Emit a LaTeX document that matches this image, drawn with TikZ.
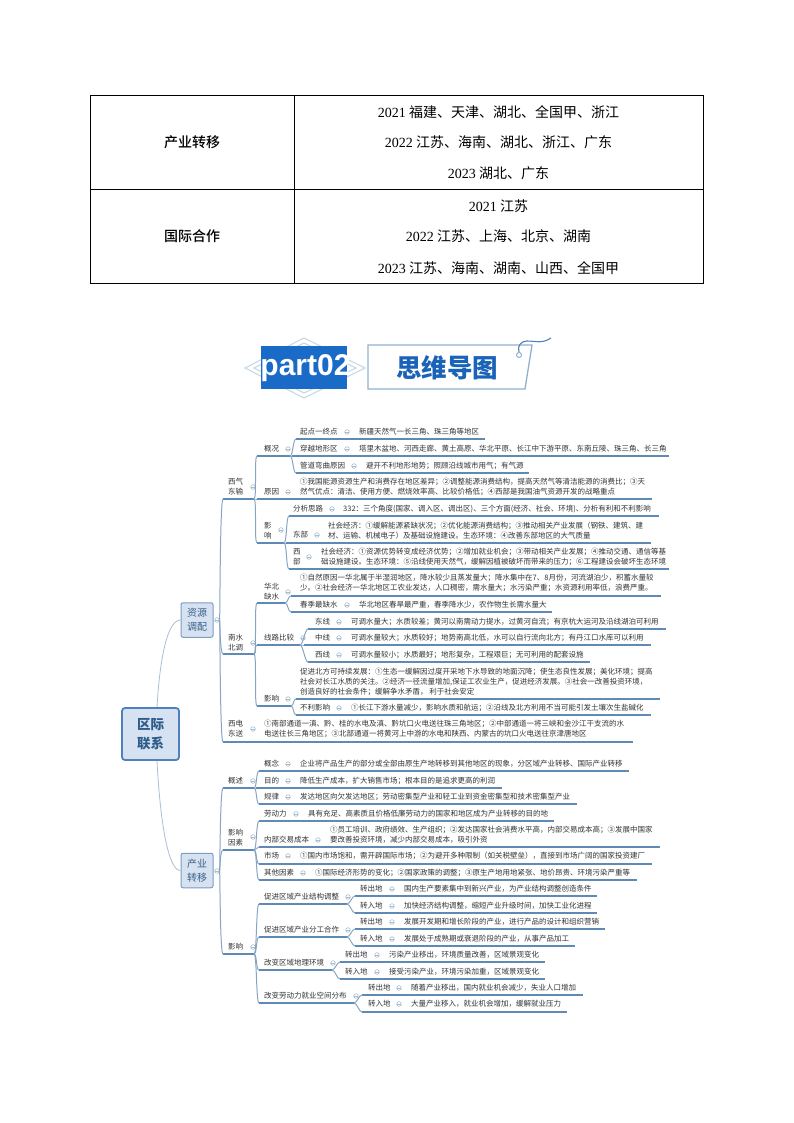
\documentclass[tikz,border=0pt]{standalone}
\usepackage{fontspec}
\setmainfont{Noto Sans CJK SC}
\newfontfamily\yearfont{Liberation Serif}
\newfontfamily\partfont{Liberation Sans}
\newfontfamily\headfont{Noto Sans CJK SC Medium}
\usetikzlibrary{calc}
\definecolor{ruleblue}{HTML}{5F8AB5}
\definecolor{connblue}{HTML}{86A5C4}
\definecolor{rootline}{HTML}{A9BDD3}
\definecolor{dotline}{HTML}{A8BCCD}
\definecolor{txt}{HTML}{333333}
\definecolor{bannerblue}{HTML}{1A6BC8}
\definecolor{titleblue}{HTML}{1A63B8}
\definecolor{framelight}{HTML}{8FB0D0}
\definecolor{diamondlight}{HTML}{CBDAE8}
\definecolor{boxfill}{HTML}{D6E2F2}
\definecolor{boxline}{HTML}{4F81BD}
\definecolor{subline}{HTML}{7C9CC0}
\definecolor{roottext}{HTML}{2E5C8A}
\definecolor{subtext}{HTML}{3A5F85}
\tikzset{
  lab/.style={anchor=west,inner sep=0pt,align=left,text=txt,font=\fontsize{7.5}{10}\selectfont},
  dotn/.style={circle,draw=dotline,fill=white,line width=0.6pt,minimum size=4.6pt,inner sep=0pt,
    path picture={\draw[dotline,line width=0.5pt] (path picture bounding box.west) -- (path picture bounding box.east);}},
  rulel/.style={draw=ruleblue,line width=1.2pt},
  conn/.style={draw=connblue,line width=1pt},
  rootconn/.style={draw=rootline,line width=0.8pt},
  cell/.style={inner sep=0pt,text=black,font=\fontsize{14}{16}\selectfont},
  headcell/.style={inner sep=0pt,text=black,font=\headfont\fontsize{14}{16}\selectfont},
  tline/.style={draw=black,line width=0.9pt},
  subbox/.style={rounded corners=2pt,draw=subline,fill=boxfill,line width=1pt,text=subtext,
     minimum width=32pt,minimum height=34.5pt,inner sep=0pt,align=center,font=\fontsize{10}{14}\selectfont},
  rootbox/.style={rounded corners=3pt,draw=boxline,fill=boxfill,line width=1.8pt,text=roottext,
     minimum width=57pt,minimum height=52pt,inner sep=0pt,align=center,font=\fontsize{13.5}{19}\selectfont\bfseries},
}
\newcommand{\Yr}[1]{{\yearfont #1}}
\newcommand{\Item}[8]{%
  \node[lab] (#1-l) at (#2,#3) {#4};
  \node[dotn] (#1-d) at (#5,#3) {};
  \node[lab] (#1-t) at (#6,#7) {#8};}
\newcommand{\Rule}[4]{%
  \coordinate (#1-a) at (#2,#4);
  \coordinate (#1-b) at (#3,#4);
  \draw[rulel] (#1-a) -- (#1-b);}
\newcommand{\Conn}[2]{\draw[conn] (#1-b) .. controls ($(#1-b)+(3,0)$) and ($(#2-a)+(-3,0)$) .. (#2-a);}
\newcommand{\Top}[2]{\draw[conn] (#1) .. controls ($(#1)+(3,0)$) and ($(#2-a)+(-3,0)$) .. (#2-a);}
\begin{document}
\begin{tikzpicture}[x=1pt,y=-1pt]
\useasboundingbox (0,0) rectangle (794,1123);
% ---------- table ----------
\draw[tline] (90,95) rectangle (703,283);
\draw[tline] (294,95) -- (294,283);
\draw[tline] (90,189) -- (703,189);
\node[headcell] (c11) at (192,142) {产业转移};
\node[headcell] (c21) at (192,236) {国际合作};
\node[cell] (r1) at (498.5,112) {\Yr{2021} 福建、天津、湖北、全国甲、浙江};
\node[cell] (r2) at (498.5,142) {\Yr{2022} 江苏、海南、湖北、浙江、广东};
\node[cell] (r3) at (498.5,173) {\Yr{2023} 湖北、广东};
\node[cell] (r4) at (498.5,206) {\Yr{2021} 江苏};
\node[cell] (r5) at (498.5,236) {\Yr{2022} 江苏、上海、北京、湖南};
\node[cell] (r6) at (498.5,268) {\Yr{2023} 江苏、海南、湖南、山西、全国甲};
% ---------- banner ----------
\draw[diamondlight,line width=1.2pt] (245,368) -- (304,338) -- (365,368) -- (304,398) -- cycle;
\draw[diamondlight,line width=1.2pt] (254,368) -- (304,343) -- (356,368) -- (304,393) -- cycle;
\fill[bannerblue] (261,346) rectangle (347,389);
\node[inner sep=0pt,text=white,font=\partfont\bfseries\fontsize{30}{31}\selectfont] (part) at (305.5,368) {part02};
\draw[framelight,line width=1.3pt] (368,345) -- (532,345) -- (525,389) -- (368,389) -- cycle;
\node[inner sep=0pt,text=titleblue,font=\fontsize{25.5}{27}\selectfont\bfseries] (title) at (447,368) {思维导图};
\node[circle,draw=framelight,fill=white,line width=1pt,minimum size=5pt,inner sep=0pt] (ring) at (519,355) {};
\draw[line width=1.1pt,color=boxline] (ring.north) .. controls (517,346) and (521,341) .. (527,341) .. controls (535,341) and (542,344) .. (551,338);
% ---------- root ----------
\node[rootbox] (root) at (150.5,734) {区际\\联系};
\node[subbox] (res) at (197,620) {资源\\调配};
\node[subbox] (ind) at (197,870.5) {产业\\转移};
\draw[rootconn] ($(root.north)+(6.5,0)$) .. controls (160,655) and (168,620) .. (res.west);
\draw[rootconn] ($(root.south)+(6.5,0)$) .. controls (160,820) and (168,871) .. (ind.west);
\node[dotn] (resd) at (217,620) {};
\node[dotn] (indd) at (217,871) {};
% ---------- 西气东输 ----------
\node[lab] (xq-l) at (228,487) {西气\\东输};
\node[dotn] (xq-d) at (253,487) {};
\Rule{xq}{223}{254}{499}
\Top{resd}{xq}
\node[lab] (gk-l) at (264,449) {概况};
\node[dotn] (gk-d) at (288,449) {};
\Rule{gk}{257}{290}{456}
\Conn{xq}{gk}
\Item{qd}{300}{432}{起点一终点}{347}{359}{432}{新疆天然气一长三角、珠三角等地区}
\Rule{qd}{296}{485}{439}
\Conn{gk}{qd}
\Item{cy}{300}{449}{穿越地形区}{347}{359}{449}{塔里木盆地、河西走廊、黄土高原、华北平原、长江中下游平原、东南丘陵、珠三角、长三角}
\Rule{cy}{292}{669}{456}
\Conn{gk}{cy}
\Item{gd}{300}{466}{管道弯曲原因}{354}{366}{466}{避开不利地形地势；照顾沿线城市用气；有气源}
\Rule{gd}{296}{529}{473}
\Conn{gk}{gd}
\Item{yy}{264}{492}{原因}{288}{300}{487}{①我国能源资源生产和消费存在地区差异；②调整能源消费结构，提高天然气等清洁能源的消费比；③天\\然气优点：清洁、使用方便、燃烧效率高、比较价格低；④西部是我国油气资源开发的战略重点}
\Rule{yy}{257}{652}{499}
\Conn{xq}{yy}
\node[lab] (yx-l) at (264,530.5) {影\\响};
\node[dotn] (yx-d) at (281,530) {};
\Rule{yx}{257}{284}{543}
\Conn{xq}{yx}
\Item{fx}{293}{509}{分析思路}{332}{343}{509}{332：三个角度(国家、调入区、调出区)、三个方面(经济、社会、环境)、分析有利和不利影响}
\Rule{fx}{289}{659}{516}
\Conn{yx}{fx}
\Item{db}{293}{535}{东部}{317}{328}{530.5}{社会经济：①缓解能源紧缺状况；②优化能源消费结构；③推动相关产业发展（钢铁、建筑、建\\材、运输、机械电子）及基础设施建设。生态环境：④改善东部地区的大气质量}
\Rule{db}{286}{651}{543}
\Conn{yx}{db}
\node[lab] (xb-l) at (293,557) {西\\部};
\node[dotn] (xb-d) at (309,557) {};
\node[lab] (xb-t) at (321,557) {社会经济：①资源优势转变成经济优势；②增加就业机会；③带动相关产业发展；④推动交通、通信等基\\础设施建设。生态环境：⑤沿线使用天然气，缓解因植被破坏而带来的压力；⑥工程建设会破坏生态环境};
\Rule{xb}{289}{669}{569}
\Conn{yx}{xb}
% ---------- 南水北调 ----------
\node[lab] (ns-l) at (228,643) {南水\\北调};
\node[dotn] (ns-d) at (253,643) {};
\Rule{ns}{223}{254}{654}
\Top{resd}{ns}
\node[lab] (hb-l) at (264,592) {华北\\缺水};
\node[dotn] (hb-d) at (288,592) {};
\Rule{hb}{257}{285}{603}
\Conn{ns}{hb}
\node[lab] (hy-t) at (300,583) {①自然原因一华北属于半湿润地区，降水较少且蒸发量大；降水集中在7、8月份，河流湖泊少，积蓄水量较\\少。②社会经济一华北地区工农业发达，人口稠密，需水量大；水污染严重；水资源利用率低，浪费严重。};
\Rule{hy}{291}{661}{596}
\Conn{hb}{hy}
\Item{cj}{300}{605}{春季最缺水}{347}{359}{605}{华北地区春旱最严重，春季降水少，农作物生长需水量大}
\Rule{cj}{291}{552}{612}
\Conn{hb}{cj}
\node[lab] (xl-l) at (264,638) {线路比较};
\node[dotn] (xl-d) at (303,638) {};
\Rule{xl}{257}{300}{645}
\Conn{ns}{xl}
\Item{dx}{315}{622}{东线}{339}{351}{622}{可调水量大；水质较差；黄河以南需动力提水，过黄河自流；有京杭大运河及沿线湖泊可利用}
\Rule{dx}{308}{666}{629}
\Conn{xl}{dx}
\Item{zx}{315}{638}{中线}{339}{351}{638}{可调水量较大；水质较好；地势南高北低，水可以自行流向北方；有丹江口水库可以利用}
\Rule{zx}{304}{651}{645}
\Conn{xl}{zx}
\Item{wx}{315}{655}{西线}{339}{351}{655}{可调水量较小；水质最好；地形复杂，工程艰巨；无可利用的配套设施}
\Rule{wx}{308}{590}{662}
\Conn{xl}{wx}
\node[lab] (ny-l) at (264,699) {影响};
\node[dotn] (ny-d) at (288,699) {};
\Rule{ny}{257}{291}{706}
\Conn{ns}{ny}
\node[lab] (cb-t) at (300,682) {促进北方可持续发展：①生态一缓解因过度开采地下水导致的地面沉降；使生态良性发展；美化环境；提高\\社会对长江水质的关注。②经济一径流量增加,保证工农业生产，促进经济发展。③社会一改善投资环境，\\创造良好的社会条件；缓解争水矛盾， 利于社会安定};
\Rule{cb}{296}{660}{699}
\Conn{ny}{cb}
\Item{bl}{300}{708}{不利影响}{339}{351}{708}{①长江下游水量减少，影响水质和航运；②沿线及北方利用不当可能引发土壤次生盐碱化}
\Rule{bl}{296}{651}{715}
\Conn{ny}{bl}
% ---------- 西电东送 ----------
\node[lab] (xd-l) at (228,729) {西电\\东送};
\node[dotn] (xd-d) at (253,729) {};
\node[lab] (xd-t) at (264,729) {①南部通道一滇、黔、桂的水电及滇、黔坑口火电送往珠三角地区；②中部通道一将三峡和金沙江干支流的水\\电送往长三角地区；③北部通道一将黄河上中游的水电和陕西、内蒙古的坑口火电送往京津唐地区};
\Rule{xd}{223}{633}{742}
\Top{resd}{xd}
% ---------- 概述 ----------
\node[lab] (gs-l) at (228,781) {概述};
\node[dotn] (gs-d) at (253,781) {};
\Rule{gs}{223}{254}{788}
\Top{indd}{gs}
\Item{gn}{264}{764}{概念}{288}{300}{764}{企业将产品生产的部分或全部由原生产地转移到其他地区的现象，分区域产业转移、国际产业转移}
\Rule{gn}{259}{629}{771}
\Conn{gs}{gn}
\Item{md}{264}{781}{目的}{288}{300}{781}{降低生产成本，扩大销售市场；根本目的是追求更高的利润}
\Rule{md}{256}{502}{788}
\Conn{gs}{md}
\Item{gl}{264}{797}{规律}{288}{300}{797}{发达地区向欠发达地区；劳动密集型产业和轻工业到资金密集型和技术密集型产业}
\Rule{gl}{259}{577}{804}
\Conn{gs}{gl}
% ---------- 影响因素 ----------
\node[lab] (ys-l) at (228,838) {影响\\因素};
\node[dotn] (ys-d) at (253,837) {};
\Rule{ys}{223}{254}{850}
\Top{indd}{ys}
\Item{ld}{264}{814}{劳动力}{296}{308}{814}{具有充足、高素质且价格低廉劳动力的国家和地区成为产业转移的目的地}
\Rule{ld}{259}{554}{821}
\Conn{ys}{ld}
\Item{nb}{264}{840}{内部交易成本}{318}{330}{835}{①员工培训、政府绩效、生产组织；②发达国家社会消费水平高，内部交易成本高；③发展中国家\\要改善投资环境，减少内部交易成本，吸引外资}
\Rule{nb}{259}{660}{847}
\Conn{ys}{nb}
\Item{sc}{264}{856}{市场}{288}{300}{856}{①国内市场饱和，需开辟国际市场；②为避开多种限制（如关税壁垒），直接到市场广阔的国家投资建厂}
\Rule{sc}{259}{652}{864}
\Conn{ys}{sc}
\Item{qt}{264}{873}{其他因素}{303}{315}{873}{①国际经济形势的变化；②国家政策的调整；③原生产地用地紧张、地价昂贵、环境污染严重等}
\Rule{qt}{259}{637}{880}
\Conn{ys}{qt}
% ---------- 影响 ----------
\node[lab] (im-l) at (228,947) {影响};
\node[dotn] (im-d) at (253,947) {};
\Rule{im}{223}{254}{954}
\Top{indd}{im}
\node[lab] (ja-l) at (264,897) {促进区域产业结构调整};
\node[dotn] (ja-d) at (348,897) {};
\Rule{ja}{259}{347}{904}
\Conn{im}{ja}
\Item{ja1}{360}{889}{转出地}{392}{404}{889}{国内生产要素集中到新兴产业，为产业结构调整创造条件}
\Rule{ja1}{355}{597}{896}
\Conn{ja}{ja1}
\Item{ja2}{360}{906}{转入地}{392}{404}{906}{加快经济结构调整，缩短产业升级时间，加快工业化进程}
\Rule{ja2}{355}{597}{913}
\Conn{ja}{ja2}
\node[lab] (jb-l) at (264,930) {促进区域产业分工合作};
\node[dotn] (jb-d) at (348,930) {};
\Rule{jb}{259}{347}{937}
\Conn{im}{jb}
\Item{jb1}{360}{922}{转出地}{392}{404}{922}{发展开发期和增长阶段的产业，进行产品的设计和组织营销}
\Rule{jb1}{355}{605}{929}
\Conn{jb}{jb1}
\Item{jb2}{360}{939}{转入地}{392}{404}{939}{发展处于成熟期或衰退阶段的产业，从事产品加工}
\Rule{jb2}{355}{575}{946}
\Conn{jb}{jb2}
\node[lab] (jc-l) at (264,963) {改变区域地理环境};
\node[dotn] (jc-d) at (333,963) {};
\Rule{jc}{259}{332}{970}
\Conn{im}{jc}
\Item{jc1}{345}{955}{转出地}{377}{389}{955}{污染产业移出，环境质量改善，区域景观变化}
\Rule{jc1}{340}{545}{962}
\Conn{jc}{jc1}
\Item{jc2}{345}{972}{转入地}{377}{389}{972}{接受污染产业，环境污染加重，区域景观变化}
\Rule{jc2}{340}{545}{979}
\Conn{jc}{jc2}
\node[lab] (jd-l) at (264,996) {改变劳动力就业空间分布};
\node[dotn] (jd-d) at (356,996) {};
\Rule{jd}{259}{354}{1003}
\Conn{im}{jd}
\Item{jd1}{368}{988}{转出地}{399}{411}{988}{随着产业移出，国内就业机会减少，失业人口增加}
\Rule{jd1}{362}{583}{995}
\Conn{jd}{jd1}
\Item{jd2}{368}{1004}{转入地}{399}{411}{1004}{大量产业移入，就业机会增加，缓解就业压力}
\Rule{jd2}{362}{567}{1012}
\Conn{jd}{jd2}
\end{tikzpicture}
\end{document}
